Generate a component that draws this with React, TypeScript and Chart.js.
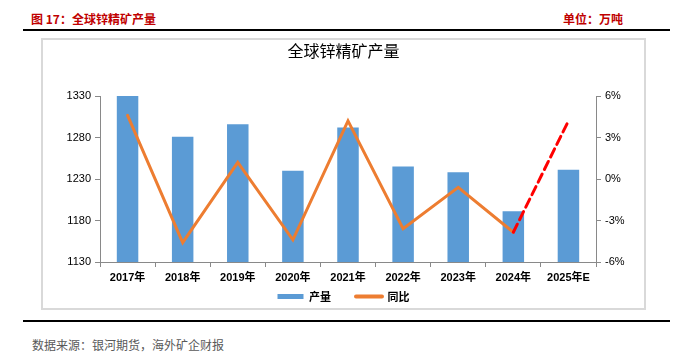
import React, { useEffect, useRef } from 'react';
import { Chart, registerables } from 'chart.js';

Chart.register(...registerables);

const categories = ['2017年', '2018年', '2019年', '2020年', '2021年', '2022年', '2023年', '2024年', '2025年E'];
const production = [1330, 1281, 1296, 1240, 1292, 1245, 1238, 1191, 1241];
const yoy = [4.6, -4.6, 1.2, -4.4, 4.2, -3.6, -0.6, -3.85, 4.2];
const leftTicks = [1130, 1180, 1230, 1280, 1330];
const rightTicks = [-6, -3, 0, 3, 6];

const FONT = "'Liberation Sans', 'Noto Sans CJK SC', sans-serif";
const CJK = "'Noto Sans CJK SC', 'Liberation Sans', sans-serif";
const AXIS = '#898989';

const legendShift = {
  id: 'legendShift',
  afterLayout(chart: any) {
    const lg = chart.legend;
    if (lg) {
      lg.top -= 18;
      lg.height = lg.bottom - lg.top;
    }
  },
};

export default function App() {
  const ref = useRef<HTMLCanvasElement>(null);

  useEffect(() => {
    if (!ref.current) return;
    const chart = new Chart(ref.current, {
      type: 'bar',
      plugins: [legendShift],
      data: {
        labels: categories,
        datasets: [
          {
            type: 'bar',
            label: '产量',
            data: production,
            backgroundColor: '#5B9BD5',
            borderWidth: 0,
            yAxisID: 'y',
            barPercentage: 0.39,
            categoryPercentage: 1,
            order: 2,
          } as any,
          {
            type: 'line',
            label: '同比',
            data: yoy,
            borderColor: '#ED7D31',
            backgroundColor: '#ED7D31',
            borderWidth: 3,
            pointRadius: 0,
            tension: 0,
            yAxisID: 'y1',
            order: 1,
            borderCapStyle: 'round',
            segment: {
              borderColor: (c: any) => (c.p1DataIndex === 8 ? '#FF0000' : undefined),
              borderDash: (c: any) => (c.p1DataIndex === 8 ? [9, 5] : undefined),
            },
          } as any,
        ],
      },
      options: {
        responsive: false,
        maintainAspectRatio: false,
        animation: false,
        layout: { padding: { left: 0, right: 0, top: 0, bottom: 0 } },
        plugins: {
          title: {
            display: true,
            text: '全球锌精矿产量',
            color: '#000',
            font: { family: CJK, size: 16, weight: 'normal' },
            padding: { top: 1.4, bottom: 35.4 },
          },
          legend: {
            position: 'bottom',
            maxHeight: 24,
            labels: {
              usePointStyle: true,
              pointStyleWidth: 26,
              boxHeight: 5,
              padding: 25,
              color: '#000',
              font: { family: CJK, size: 11, weight: 'bold' },
              generateLabels: (ch: any) => {
                const items = (Chart.defaults.plugins.legend.labels as any).generateLabels(ch);
                items.sort((a: any, b: any) => a.datasetIndex - b.datasetIndex);
                for (const it of items) {
                  if (it.datasetIndex === 0) {
                    it.pointStyle = 'rect';
                    it.lineWidth = 0;
                  } else {
                    it.pointStyle = 'line';
                    it.lineWidth = 4;
                    it.strokeStyle = '#ED7D31';
                    it.lineCap = 'round';
                  }
                }
                return items;
              },
            },
          },
          tooltip: { enabled: false },
        },
        scales: {
          x: {
            afterFit: (s: any) => { s.height = 22; },
            grid: { offset: true, drawOnChartArea: false, drawTicks: true, tickLength: 5, color: AXIS },
            border: { display: true, color: AXIS, width: 1 },
            ticks: {
              color: '#000',
              padding: 4,
              maxRotation: 0,
              autoSkip: false,
              font: { family: FONT, size: 11, weight: 'bold' },
            },
          },
          y: {
            position: 'left',
            min: 1130,
            max: 1330,
            afterBuildTicks: (s: any) => { s.ticks = leftTicks.map((v) => ({ value: v })); },
            afterFit: (s: any) => { s.width = 57; },
            grid: { drawOnChartArea: false, drawTicks: true, tickLength: 5, color: AXIS },
            border: { display: true, color: AXIS, width: 1 },
            ticks: {
              color: '#000',
              padding: 4,
              font: { family: FONT, size: 11 },
              callback: (v: any) => String(v),
            },
          },
          y1: {
            position: 'right',
            min: -6,
            max: 6,
            afterBuildTicks: (s: any) => { s.ticks = rightTicks.map((v) => ({ value: v })); },
            afterFit: (s: any) => { s.width = 48; },
            grid: { drawOnChartArea: false, drawTicks: true, tickLength: 5, color: AXIS },
            border: { display: true, color: AXIS, width: 1 },
            ticks: {
              color: '#000',
              padding: 4,
              font: { family: FONT, size: 11 },
              callback: (v: any) => `${v}%`,
            },
          },
        },
      } as any,
    });
    return () => chart.destroy();
  }, []);

  return (
    <div style={{ position: 'absolute', left: 0, top: 0, width: 689, height: 363, background: '#fff', overflow: 'hidden' }}>
      <div style={{ position: 'absolute', left: 31, top: 12, fontFamily: CJK, fontSize: 12, lineHeight: '14px', fontWeight: 'bold', color: '#C00000', whiteSpace: 'nowrap' }}>
        图 17：全球锌精矿产量
      </div>
      <div style={{ position: 'absolute', left: 563, top: 12, fontFamily: CJK, fontSize: 12, lineHeight: '14px', fontWeight: 'bold', color: '#C00000', whiteSpace: 'nowrap' }}>
        单位：万吨
      </div>
      <div style={{ position: 'absolute', left: 23, top: 29, width: 647, height: 2, background: '#000' }} />
      <div style={{ position: 'absolute', left: 41, top: 38, width: 605, height: 272, border: '2px solid #D9D9D9', boxSizing: 'border-box' }}>
        <canvas ref={ref} width={601} height={268} style={{ position: 'absolute', left: 0, top: 0, width: 601, height: 268 }} />
      </div>
      <div style={{ position: 'absolute', left: 23, top: 320, width: 647, height: 2, background: '#000' }} />
      <div style={{ position: 'absolute', left: 32, top: 337, fontFamily: CJK, fontSize: 12, lineHeight: '16px', color: '#595959', whiteSpace: 'nowrap' }}>
        数据来源：银河期货，海外矿企财报
      </div>
    </div>
  );
}
